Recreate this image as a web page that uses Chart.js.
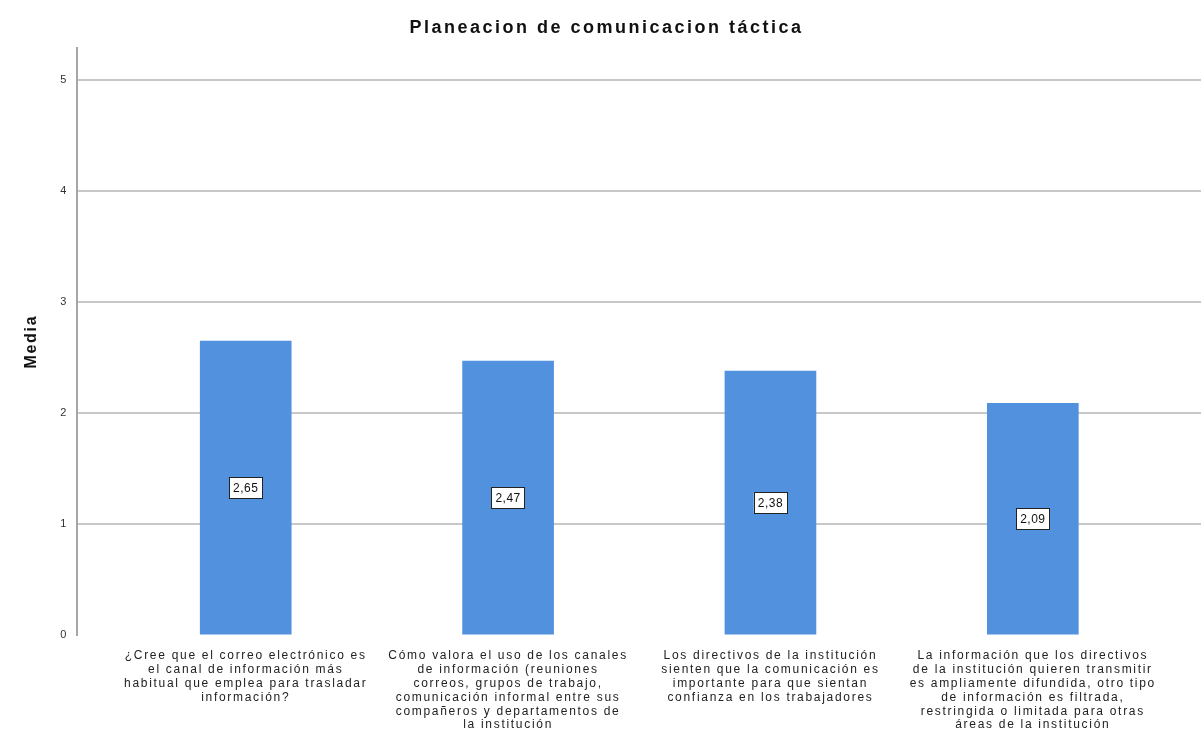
<!DOCTYPE html>
<html>
<head>
<meta charset="utf-8">
<script src="https://cdn.jsdelivr.net/npm/chart.js@4.4.1/dist/chart.umd.min.js"></script>
<style>
  html, body { margin: 0; padding: 0; background: #fff; }
  #wrap { width: 1201px; height: 735px; }
</style>
</head>
<body>
<div id="wrap"><canvas id="chart"></canvas></div>
<script>
const chartTitle = "Planeacion de comunicacion táctica";
const yTitle = "Media";

const categories = [
  ["¿Cree que el correo electrónico es", "el canal de información más", "habitual que emplea para trasladar", "información?"],
  ["Cómo valora el uso de los canales", "de información (reuniones", "correos, grupos de trabajo,", "comunicación informal entre sus", "compañeros y departamentos de", "la institución"],
  ["Los directivos de la institución", "sienten que la comunicación es", "importante para que sientan", "confianza en los trabajadores"],
  ["La información que los directivos", "de la institución quieren transmitir", "es ampliamente difundida, otro tipo", "de información es filtrada,", "restringida o limitada para otras", "áreas de la institución"]
];
const means = [2.65, 2.47, 2.38, 2.09];
const yTicks = [0, 1, 2, 3, 4, 5];

const fontFamily = "'Liberation Sans', Arial, sans-serif";

function fmt(v) {
  return v.toFixed(2).replace(".", ",");
}

// spaced-out text like the SPSS output
const spacing = {
  id: "spacing",
  beforeUpdate(chart) { chart.ctx.letterSpacing = "1.7px"; },
  beforeDraw(chart) { chart.ctx.letterSpacing = "1.7px"; }
};

const topTitle = {
  id: "topTitle",
  afterDraw(chart) {
    const ctx = chart.ctx;
    ctx.save();
    ctx.letterSpacing = "2.5px";
    ctx.font = "bold 18px " + fontFamily;
    ctx.fillStyle = "#111";
    ctx.textAlign = "center";
    ctx.textBaseline = "middle";
    ctx.fillText(chartTitle, chart.width / 2 + 6, 28);
    ctx.restore();
  }
};

const valueBoxes = {
  id: "valueBoxes",
  afterDatasetsDraw(chart) {
    const ctx = chart.ctx;
    const meta = chart.getDatasetMeta(0);
    ctx.save();
    ctx.letterSpacing = "0.5px";
    ctx.font = "12px " + fontFamily;
    ctx.textAlign = "center";
    ctx.textBaseline = "middle";
    meta.data.forEach((bar, i) => {
      const txt = fmt(means[i]);
      const y = (bar.y + bar.base) / 2;
      const w = ctx.measureText(txt).width + 8;
      const h = 21;
      ctx.fillStyle = "#fff";
      ctx.fillRect(bar.x - w / 2, y - h / 2, w, h);
      ctx.strokeStyle = "#222";
      ctx.lineWidth = 1;
      ctx.strokeRect(Math.round(bar.x - w / 2) + 0.5, Math.round(y - h / 2) + 0.5, Math.round(w), h);
      ctx.fillStyle = "#111";
      ctx.fillText(txt, bar.x, y + 1);
    });
    ctx.restore();
  }
};

new Chart(document.getElementById("chart"), {
  type: "bar",
  data: {
    datasets: [{
      data: means.map((v, i) => ({ x: i, y: v })),
      backgroundColor: "#5291dd",
      borderWidth: 0,
      barThickness: 91
    }]
  },
  options: {
    responsive: true,
    maintainAspectRatio: false,
    animation: false,
    layout: { padding: { top: 48, right: 0, bottom: -3, left: 22 } },
    plugins: {
      legend: { display: false },
      tooltip: { enabled: false }
    },
    scales: {
      x: {
        type: "linear",
        offset: false,
        min: -0.643,
        max: 3.641,
        grid: { display: false },
        border: { display: false },
        afterBuildTicks(scale) {
          scale.ticks = categories.map((_, i) => ({ value: i }));
        },
        ticks: {
          autoSkip: false,
          maxRotation: 0,
          minRotation: 0,
          padding: 6,
          color: "#222",
          font: { family: fontFamily, size: 12, lineHeight: 1.15 },
          callback: (v) => categories[v]
        }
      },
      y: {
        min: 0,
        max: 5.29,
        afterBuildTicks(scale) {
          scale.ticks = yTicks.map(v => ({ value: v }));
        },
        grid: {
          drawTicks: false,
          lineWidth: 2,
          color: (c) => c.tick && c.tick.value === 0 ? "rgba(0,0,0,0)" : "#c8c8c8"
        },
        border: { display: true, color: "#a6a6a6", width: 2 },
        ticks: {
          padding: 9,
          color: "#333",
          font: { family: fontFamily, size: 11 }
        },
        title: {
          display: true,
          text: yTitle,
          color: "#111",
          font: { family: fontFamily, size: 16, weight: "bold" },
          padding: { top: 0, bottom: 10 }
        }
      }
    }
  },
  plugins: [spacing, topTitle, valueBoxes]
});
</script>
</body>
</html>
